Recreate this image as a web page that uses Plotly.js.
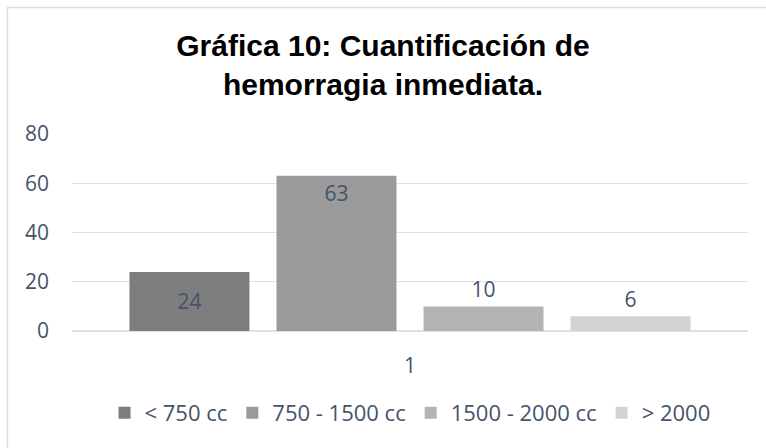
<!DOCTYPE html>
<html>
<head>
<meta charset="utf-8">
<script src="https://cdn.plot.ly/plotly-3.0.1.min.js"></script>
<style>
  html, body { margin: 0; padding: 0; background: #ffffff; }
  #chart { width: 766px; height: 448px; }
</style>
</head>
<body>
<div id="chart"></div>
<script>
// Data
var categories = ["1"];
var seriesNames = ["< 750 cc", "750 - 1500 cc", "1500 - 2000 cc", "> 2000"];
var seriesValues = [[24], [63], [10], [6]];
var seriesColors = ["#7d7d7d", "#9a9a9a", "#b3b3b3", "#d3d3d3"];
var labelPositions = ["inside", "inside", "outside", "outside"];
var labelAnchors = ["middle", "end", "middle", "middle"];
var yTickValues = [0, 20, 40, 60, 80];
var titleText = "Gráfica 10: Cuantificación de<br>hemorragia inmediata.";

var textColor = "#44546A";
var baseFont = "Open Sans, Liberation Sans, sans-serif";

var traces = seriesNames.map(function (name, i) {
  return {
    type: "bar",
    name: name,
    x: categories,
    y: seriesValues[i],
    text: seriesValues[i].map(String),
    textposition: labelPositions[i],
    insidetextanchor: labelAnchors[i],
    constraintext: "none",
    cliponaxis: false,
    textfont: { family: baseFont, size: 21, color: textColor },
    insidetextfont: { family: baseFont, size: 21, color: textColor },
    outsidetextfont: { family: baseFont, size: 21, color: textColor },
    marker: { color: seriesColors[i], line: { width: 0 } },
    hoverinfo: "none"
  };
});

var layout = {
  width: 766,
  height: 448,
  margin: { l: 72, r: 18, t: 134, b: 117 },
  paper_bgcolor: "#ffffff",
  plot_bgcolor: "#ffffff",
  barmode: "group",
  bargap: 0.13,
  bargroupgap: 0.184,
  showlegend: true,
  title: {
    text: titleText,
    font: { family: "Liberation Sans, Arial, sans-serif", size: 30, color: "#000000", weight: "bold" },
    x: 0.5,
    xanchor: "center",
    y: 0.875,
    yref: "container",
    yanchor: "top"
  },
  xaxis: {
    type: "category",
    showgrid: false,
    zeroline: false,
    showline: false,
    ticks: "",
    ticklabelstandoff: 20,
    tickfont: { family: baseFont, size: 21, color: textColor }
  },
  yaxis: {
    range: [0, 80],
    tickvals: yTickValues,
    showgrid: true,
    gridcolor: "#dde1e7",
    gridwidth: 1.3,
    zeroline: true,
    zerolinecolor: "#dde1e7",
    zerolinewidth: 1.3,
    showline: false,
    ticks: "",
    ticklabelstandoff: 22,
    tickfont: { family: baseFont, size: 21, color: textColor }
  },
  legend: {
    orientation: "h",
    x: 0.5,
    xanchor: "center",
    y: -0.416,
    yanchor: "middle",
    font: { family: baseFont, size: 22, color: textColor },
    itemwidth: 30,
    traceorder: "normal"
  },
  shapes: [{
    type: "rect",
    xref: "paper",
    yref: "paper",
    x0: (7.5 - 72) / 676,
    x1: 2,
    y0: -2,
    y1: (331 - 7.5) / 197,
    line: { color: "#d9dde3", width: 1.3 },
    fillcolor: "rgba(0,0,0,0)",
    layer: "below"
  }]
};

Plotly.newPlot("chart", traces, layout, { staticPlot: true, displayModeBar: false });
</script>
</body>
</html>
